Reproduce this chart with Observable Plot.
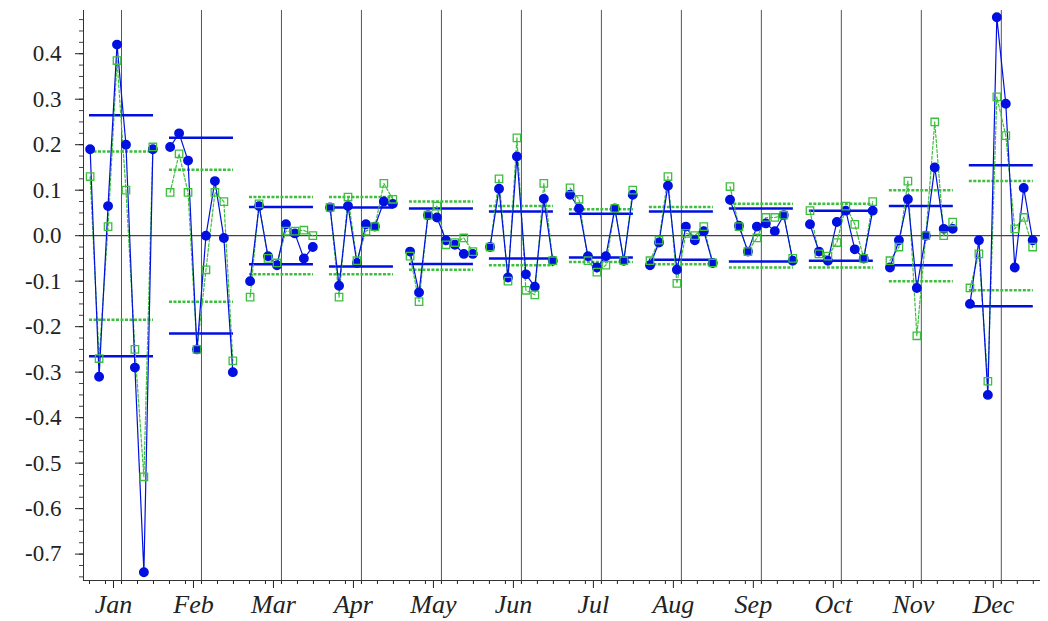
<!DOCTYPE html>
<html>
<head>
<meta charset="utf-8">
<script src="https://cdn.jsdelivr.net/npm/d3@7"></script>
<script src="https://cdn.jsdelivr.net/npm/@observablehq/plot@0.6"></script>
<style>body{margin:0;background:#fff} svg text{font-family:"Liberation Serif","DejaVu Serif",serif}</style>
</head>
<body>
<script>
// data
const months = ['Jan','Feb','Mar','Apr','May','Jun','Jul','Aug','Sep','Oct','Nov','Dec'];
const blue = [
  [0.19,-0.31,0.065,0.42,0.20,-0.29,-0.74,0.19],
  [0.195,0.225,0.165,-0.25,0.0,0.12,-0.005,-0.30],
  [-0.1,0.065,-0.045,-0.065,0.025,0.005,-0.05,-0.025],
  [0.062,-0.11,0.065,-0.06,0.025,0.02,0.075,0.07],
  [-0.035,-0.125,0.045,0.04,-0.01,-0.02,-0.04,-0.04],
  [-0.025,0.103,-0.092,0.174,-0.085,-0.112,0.081,-0.055],
  [0.09,0.06,-0.045,-0.07,-0.045,0.06,-0.055,0.09],
  [-0.065,-0.015,0.11,-0.075,0.02,-0.01,0.01,-0.06],
  [0.079,0.022,-0.035,0.02,0.027,0.01,0.045,-0.055],
  [0.025,-0.035,-0.055,0.03,0.055,-0.03,-0.05,0.055],
  [-0.07,-0.01,0.08,-0.115,0.0,0.15,0.015,0.015],
  [-0.15,-0.01,-0.35,0.48,0.29,-0.07,0.105,-0.01]
];
const green = [
  [0.13,-0.27,0.02,0.385,0.10,-0.25,-0.53,0.195],
  [0.095,0.18,0.095,-0.25,-0.075,0.095,0.075,-0.275],
  [-0.135,0.07,-0.05,-0.06,0.01,0.01,0.012,0.0],
  [0.062,-0.135,0.085,-0.055,0.01,0.02,0.115,0.08],
  [-0.045,-0.145,0.045,0.065,-0.02,-0.015,-0.005,-0.035],
  [-0.025,0.125,-0.1,0.215,-0.12,-0.13,0.115,-0.055],
  [0.105,0.08,-0.055,-0.08,-0.065,0.06,-0.055,0.1],
  [-0.055,-0.01,0.13,-0.105,0.005,0.0,0.02,-0.06],
  [0.108,0.02,-0.035,-0.005,0.04,0.04,0.045,-0.05],
  [0.055,-0.04,-0.045,-0.015,0.065,0.025,-0.05,0.075],
  [-0.055,-0.025,0.12,-0.22,0.0,0.25,0.0,0.03],
  [-0.115,-0.04,-0.32,0.305,0.22,0.015,0.04,-0.025]
];
// control limits [upper, lower]
const blueLim = [[0.265,-0.265],[0.215,-0.215],[0.063,-0.063],[0.062,-0.068],[0.06,-0.062],[0.053,-0.05],
  [0.048,-0.048],[0.053,-0.053],[0.06,-0.057],[0.055,-0.055],[0.065,-0.065],[0.155,-0.155]];
const greenLim = [[0.185,-0.185],[0.145,-0.145],[0.085,-0.085],[0.085,-0.085],[0.075,-0.075],[0.065,-0.065],
  [0.058,-0.058],[0.063,-0.063],[0.07,-0.07],[0.07,-0.07],[0.1,-0.1],[0.12,-0.12]];
const yTicks = [-0.7,-0.6,-0.5,-0.4,-0.3,-0.2,-0.1,0,0.1,0.2,0.3,0.4];

// long tables
const toPts = (arr) => arr.flatMap((vals, m) => vals.map((v, k) => ({m, x: m + (k - 3.5) * 0.112, y: v})));
const bluePts = toPts(blue);
const greenPts = toPts(green);
const toLims = (lims) => lims.flatMap(([u, l], m) => [{m, y: u}, {m, y: l}]);

const BLUE = '#0010e0', GREEN = '#3cbf3c';
const none = () => '';

const fig = Plot.plot({
  width: 1048,
  height: 621,
  marginLeft: 83, marginRight: 8, marginTop: 10, marginBottom: 41,
  style: {fontSize: '22px', color: '#222', background: '#fff'},
  x: {domain: [-0.475, 11.49], axis: null},
  y: {domain: [-0.758, 0.495], axis: null},
  marks: [
    Plot.ruleX(d3.range(12), {stroke: '#555', strokeWidth: 1}),
    Plot.ruleY([0], {stroke: '#444', strokeWidth: 1.3}),
    Plot.ruleY(toLims(greenLim), {y: 'y', x1: d => d.m - 0.4, x2: d => d.m + 0.4, stroke: GREEN, strokeWidth: 2.5, strokeDasharray: '3,1.5'}),
    Plot.ruleY(toLims(blueLim), {y: 'y', x1: d => d.m - 0.4, x2: d => d.m + 0.4, stroke: BLUE, strokeWidth: 2.5}),
    Plot.line(greenPts, {x: 'x', y: 'y', z: 'm', stroke: GREEN, strokeWidth: 1.2, strokeDasharray: '3,2'}),
    Plot.line(bluePts, {x: 'x', y: 'y', z: 'm', stroke: BLUE, strokeWidth: 1.2}),
    Plot.dot(bluePts, {x: 'x', y: 'y', r: 4.2, fill: BLUE, stroke: BLUE}),
    Plot.dot(greenPts, {x: 'x', y: 'y', symbol: 'square', r: 4.2, fill: 'none', stroke: GREEN, strokeWidth: 1.3}),
    // axes
    Plot.axisY(d3.range(-0.75, 0.496, 0.025), {tickSize: 4, tickFormat: none, label: null, stroke: '#444'}),
    Plot.axisY(yTicks, {tickSize: 8, tickFormat: d => d === 0 ? '0.0' : d3.format('.1f')(d).replace('−', '-'), label: null, fontSize: 23, tickPadding: 14}),
    Plot.axisX(d3.range(-0.4, 11.5, 0.2), {tickSize: 4, tickFormat: none, label: null}),
    Plot.axisX(d3.range(12), {tickSize: 8, tickFormat: i => months[i], label: null, fontSize: 26, fontStyle: 'italic', tickPadding: 6, dx: -8}),
    Plot.ruleX([-0.475], {stroke: '#333'}),
    Plot.ruleY([-0.758], {stroke: '#333'})
  ]
});
document.body.append(fig);
</script>
</body>
</html>
